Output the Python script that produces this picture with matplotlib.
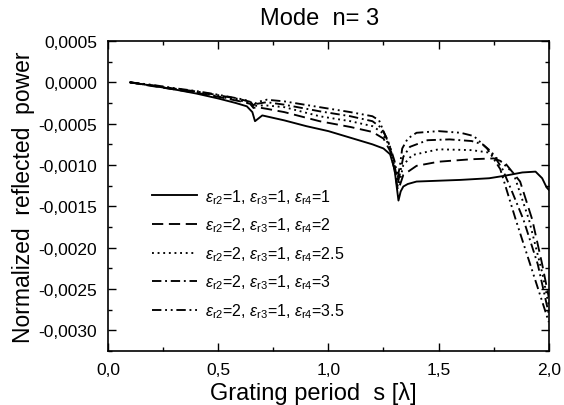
import matplotlib
matplotlib.use("Agg")
import matplotlib.pyplot as plt
from matplotlib.ticker import FuncFormatter, MultipleLocator
import numpy as np

plt.rcParams['font.family'] = ['Liberation Sans', 'DejaVu Sans']
plt.rcParams['mathtext.fontset'] = 'custom'
plt.rcParams['mathtext.rm'] = 'Liberation Sans'
plt.rcParams['mathtext.it'] = 'Liberation Sans:italic'

# data, y in units of 1e-4
x_111 = [0.10, 0.20, 0.30, 0.40, 0.50, 0.58, 0.63, 0.655, 0.667, 0.70, 0.80, 0.90,
         1.00, 1.10, 1.20, 1.25, 1.28, 1.30, 1.318, 1.328, 1.34, 1.36, 1.40, 1.50,
         1.60, 1.73, 1.80, 1.88, 1.94, 1.97, 1.99, 2.00]
y_111 = [0.0, -0.4, -0.85, -1.35, -1.95, -2.5, -2.9, -3.6, -4.7, -4.0, -4.6, -5.3,
         -5.9, -6.7, -7.5, -8.0, -8.7, -10.5, -14.3, -13.2, -12.6, -12.3, -12.0, -11.9,
         -11.8, -11.6, -11.3, -10.9, -10.8, -11.6, -12.7, -13.0]

x_212 = [0.10, 0.20, 0.30, 0.40, 0.50, 0.60, 0.645, 0.66, 0.675, 0.72, 0.80, 0.96,
         1.10, 1.20, 1.25, 1.28, 1.30, 1.315, 1.325, 1.34, 1.40, 1.50, 1.65, 1.75,
         1.80, 1.87, 1.925, 1.97, 2.00]
y_212 = [0.0, -0.45, -0.85, -1.25, -1.75, -2.3, -2.6, -3.1, -3.0, -3.2, -3.6, -4.7,
         -5.4, -6.0, -6.8, -8.3, -10.6, -13.0, -12.4, -11.2, -10.1, -9.6, -9.3, -9.2,
         -9.7, -12.0, -16.6, -22.0, -26.0]

x_2125 = [0.10, 0.20, 0.30, 0.40, 0.50, 0.60, 0.645, 0.66, 0.675, 0.72, 0.80, 0.96,
          1.10, 1.20, 1.24, 1.28, 1.30, 1.315, 1.325, 1.34, 1.38, 1.50, 1.65, 1.73,
          1.78, 1.84, 1.91, 1.97, 2.00]
y_2125 = [0.0, -0.4, -0.8, -1.2, -1.7, -2.2, -2.5, -3.0, -2.8, -2.8, -3.0, -4.1,
          -4.7, -5.3, -6.0, -7.8, -10.3, -12.6, -11.8, -10.0, -8.8, -8.1, -8.2, -8.5,
          -9.5, -11.0, -16.6, -23.0, -27.0]

x_213 = [0.10, 0.20, 0.30, 0.40, 0.50, 0.60, 0.645, 0.66, 0.675, 0.72, 0.80, 0.96,
         1.10, 1.20, 1.24, 1.27, 1.30, 1.315, 1.325, 1.34, 1.37, 1.45, 1.55, 1.65,
         1.70, 1.74, 1.79, 1.83, 1.885, 1.95, 2.00]
y_213 = [0.0, -0.35, -0.75, -1.1, -1.55, -2.05, -2.35, -2.9, -2.6, -2.4, -2.7, -3.5,
         -4.1, -4.7, -5.5, -7.0, -10.0, -12.2, -11.0, -9.0, -7.8, -7.0, -6.9, -7.1,
         -7.5, -8.4, -10.5, -13.0, -16.6, -22.0, -28.0]

x_2135 = [0.10, 0.20, 0.30, 0.40, 0.50, 0.60, 0.645, 0.66, 0.675, 0.72, 0.80, 0.96,
          1.10, 1.20, 1.23, 1.25, 1.28, 1.30, 1.315, 1.325, 1.335, 1.36, 1.40, 1.50,
          1.60, 1.66, 1.72, 1.78, 1.85, 1.97, 2.00]
y_2135 = [0.0, -0.3, -0.7, -1.05, -1.5, -2.0, -2.3, -2.8, -2.4, -2.1, -2.3, -3.0,
          -3.6, -4.1, -4.6, -5.9, -7.8, -9.5, -11.5, -10.0, -8.0, -6.8, -6.1, -5.9,
          -6.1, -6.5, -8.0, -10.5, -16.6, -26.5, -29.0]

labels = [r'$\varepsilon_{\mathrm{r2}}$=1, $\varepsilon_{\mathrm{r3}}$=1, $\varepsilon_{\mathrm{r4}}$=1',
          r'$\varepsilon_{\mathrm{r2}}$=2, $\varepsilon_{\mathrm{r3}}$=1, $\varepsilon_{\mathrm{r4}}$=2',
          r'$\varepsilon_{\mathrm{r2}}$=2, $\varepsilon_{\mathrm{r3}}$=1, $\varepsilon_{\mathrm{r4}}$=2.5',
          r'$\varepsilon_{\mathrm{r2}}$=2, $\varepsilon_{\mathrm{r3}}$=1, $\varepsilon_{\mathrm{r4}}$=3',
          r'$\varepsilon_{\mathrm{r2}}$=2, $\varepsilon_{\mathrm{r3}}$=1, $\varepsilon_{\mathrm{r4}}$=3.5']

series = [(x_111, y_111), (x_212, y_212), (x_2125, y_2125), (x_213, y_213), (x_2135, y_2135)]
styles = ['-', (0, (6, 3)), (0, (1, 2)), (0, (5, 2, 1, 2)), (0, (5, 2, 1, 2, 1, 2))]

fig = plt.figure(figsize=(5.64, 4.06), dpi=100)
ax = fig.add_axes([0.1915, 0.133, 0.7815, 0.7635])

for (xs, ys), ls, lab in zip(series, styles, labels):
    ax.plot(xs, np.array(ys) * 1e-4, color='black', linestyle=ls, lw=1.35, label=lab)

ax.set_xlim(0, 2.0)
ax.set_ylim(-0.00325, 0.0005)
ax.xaxis.set_major_locator(MultipleLocator(0.5))
ax.xaxis.set_minor_locator(MultipleLocator(0.25))
ax.yaxis.set_major_locator(MultipleLocator(0.0005))
ax.yaxis.set_minor_locator(MultipleLocator(0.00025))
ax.xaxis.set_major_formatter(FuncFormatter(lambda v, p: f'{v:.1f}'.replace('.', ',')))
ax.yaxis.set_major_formatter(FuncFormatter(
    lambda v, p: f'{v:.4f}'.replace('.', ',') if abs(v) > 1e-9 else '0,0000'))
ax.tick_params(which='both', direction='in', top=True, right=True, labelsize=12.5)
ax.tick_params(which='major', length=6, width=1)
ax.tick_params(which='minor', length=3, width=1)
ax.tick_params(axis='y', pad=8)
ax.tick_params(axis='x', pad=8)
for sp in ax.spines.values():
    sp.set_linewidth(1.2)

ax.set_title('Mode  n= 3', fontsize=17, pad=12, x=0.48)
ax.set_xlabel('Grating period  s [\u03bb]', fontsize=17, labelpad=3, x=0.466)
ax.set_ylabel('Normalized  reflected  power', fontsize=16.5, labelpad=2)

ax.legend(loc='upper left', bbox_to_anchor=(0.085, 0.55), frameon=False, fontsize=11.5,
          handlelength=2.8, labelspacing=0.62, borderaxespad=0, handletextpad=0.5)

fig.savefig('out.png', dpi=100)
